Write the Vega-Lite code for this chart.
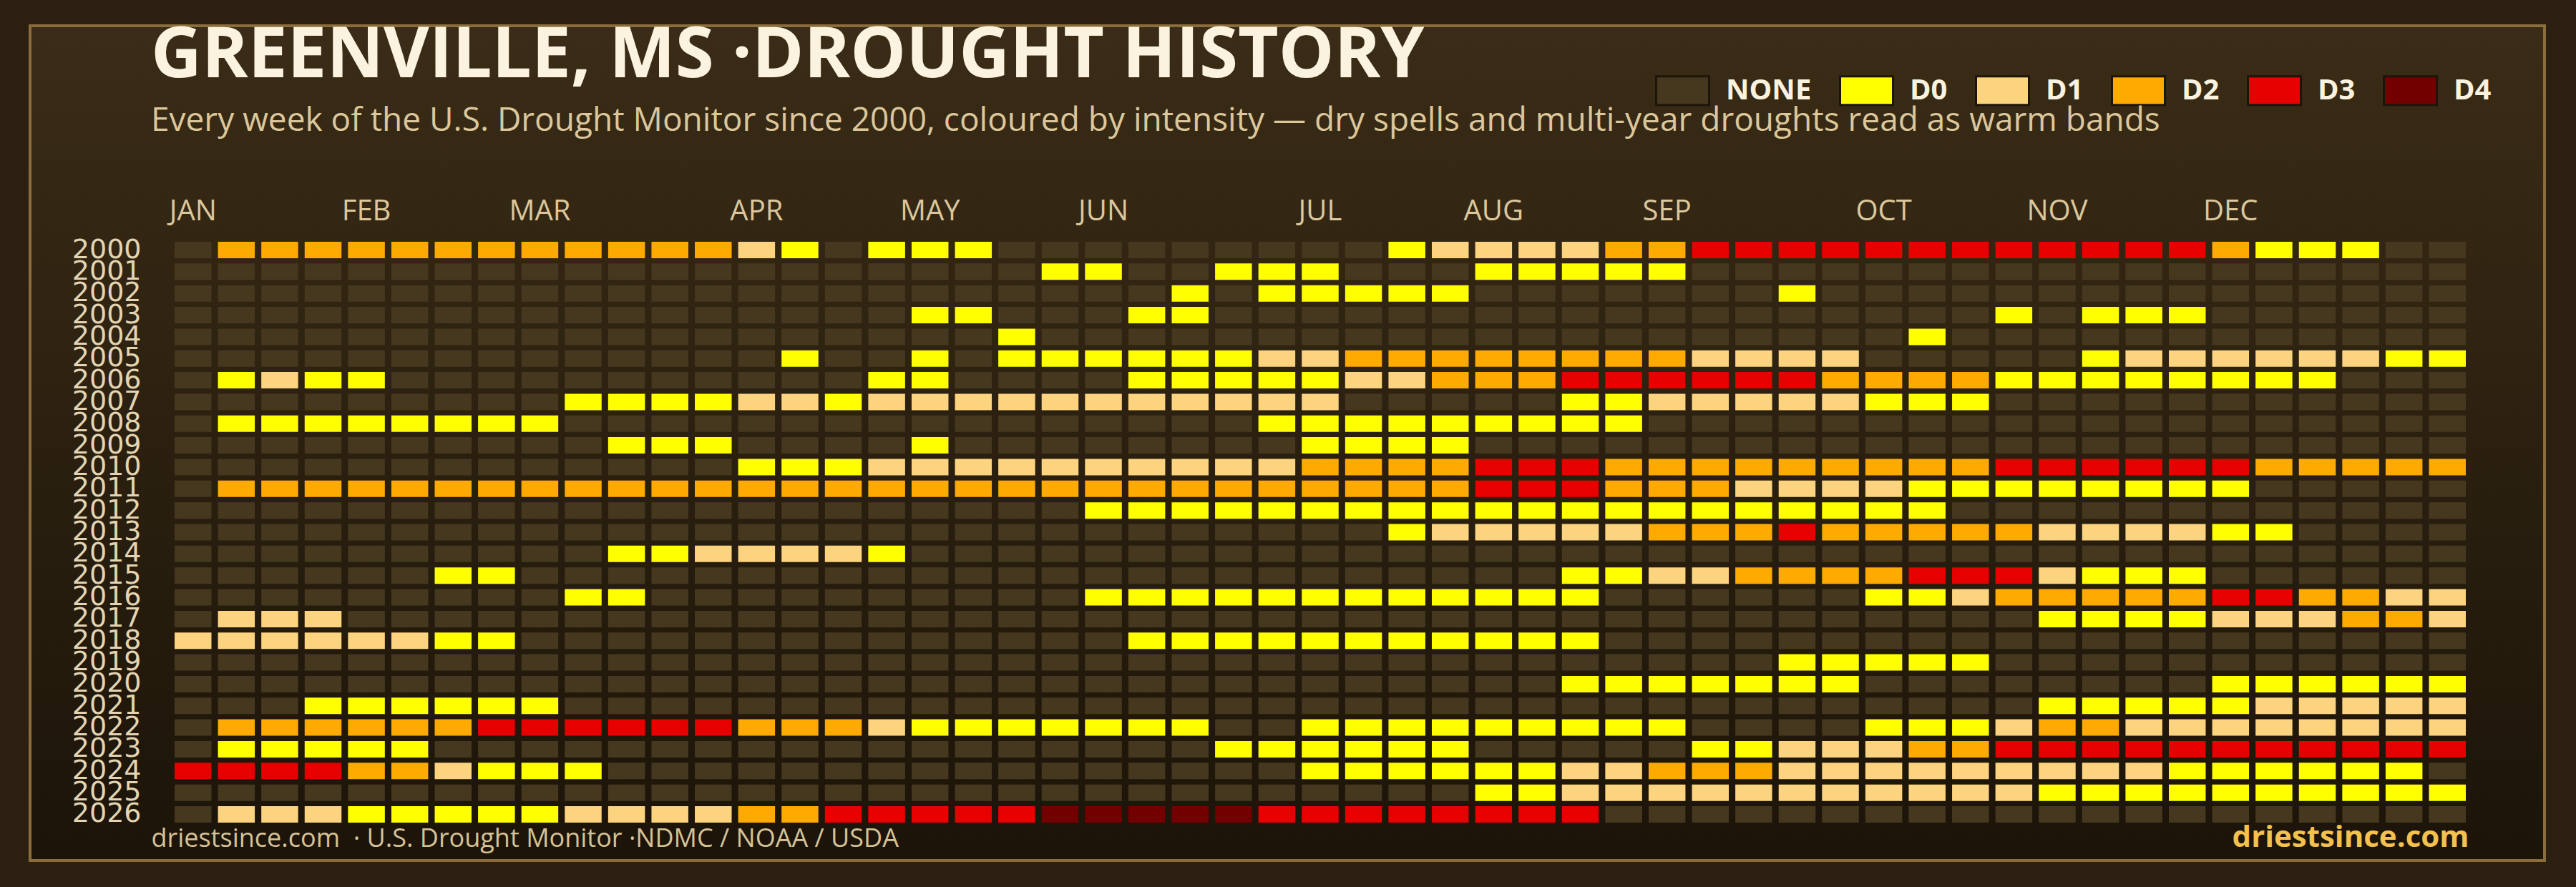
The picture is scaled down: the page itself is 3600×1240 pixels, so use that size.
{
"$schema": "https://vega.github.io/schema/vega-lite/v6.json",
"width": 3514,
"height": 1167,
"autosize": {"type": "none"},
"padding": {"left": 42, "top": 36, "right": 44, "bottom": 37},
"background": "#2a1f10",
"config": {
  "font": "Open Sans",
  "view": {"fill": {"gradient": "linear", "x1": 0, "y1": 0, "x2": 0, "y2": 1, "stops": [{"offset": 0, "color": "#3a2c16"}, {"offset": 1, "color": "#1c1409"}]}, "stroke": "#8a6d3b", "strokeWidth": 4}
},
"title": {
  "text": "GREENVILLE, MS ·DROUGHT HISTORY",
  "subtitle": "Every week of the U.S. Drought Monitor since 2000, coloured by intensity — dry spells and multi-year droughts read as warm bands",
  "anchor": "start", "frame": "group", "orient": "top", "offset": -157, "dx": 169,
  "font": "Open Sans", "fontSize": 98, "fontWeight": "bold", "color": "#fbf3df",
  "subtitleFont": "Open Sans", "subtitleFontSize": 46, "subtitleColor": "#dcc79c", "subtitlePadding": 18
},
"data": {"values": [
{"year":2000,"wk":0,"lvl":"NONE"},{"year":2000,"wk":1,"lvl":"D2"},{"year":2000,"wk":2,"lvl":"D2"},{"year":2000,"wk":3,"lvl":"D2"},{"year":2000,"wk":4,"lvl":"D2"},{"year":2000,"wk":5,"lvl":"D2"},{"year":2000,"wk":6,"lvl":"D2"},{"year":2000,"wk":7,"lvl":"D2"},{"year":2000,"wk":8,"lvl":"D2"},{"year":2000,"wk":9,"lvl":"D2"},{"year":2000,"wk":10,"lvl":"D2"},{"year":2000,"wk":11,"lvl":"D2"},{"year":2000,"wk":12,"lvl":"D2"},{"year":2000,"wk":13,"lvl":"D1"},{"year":2000,"wk":14,"lvl":"D0"},{"year":2000,"wk":15,"lvl":"NONE"},{"year":2000,"wk":16,"lvl":"D0"},{"year":2000,"wk":17,"lvl":"D0"},{"year":2000,"wk":18,"lvl":"D0"},{"year":2000,"wk":19,"lvl":"NONE"},{"year":2000,"wk":20,"lvl":"NONE"},{"year":2000,"wk":21,"lvl":"NONE"},{"year":2000,"wk":22,"lvl":"NONE"},{"year":2000,"wk":23,"lvl":"NONE"},{"year":2000,"wk":24,"lvl":"NONE"},{"year":2000,"wk":25,"lvl":"NONE"},{"year":2000,"wk":26,"lvl":"NONE"},{"year":2000,"wk":27,"lvl":"NONE"},{"year":2000,"wk":28,"lvl":"D0"},{"year":2000,"wk":29,"lvl":"D1"},{"year":2000,"wk":30,"lvl":"D1"},{"year":2000,"wk":31,"lvl":"D1"},{"year":2000,"wk":32,"lvl":"D1"},{"year":2000,"wk":33,"lvl":"D2"},{"year":2000,"wk":34,"lvl":"D2"},{"year":2000,"wk":35,"lvl":"D3"},{"year":2000,"wk":36,"lvl":"D3"},{"year":2000,"wk":37,"lvl":"D3"},{"year":2000,"wk":38,"lvl":"D3"},{"year":2000,"wk":39,"lvl":"D3"},{"year":2000,"wk":40,"lvl":"D3"},{"year":2000,"wk":41,"lvl":"D3"},{"year":2000,"wk":42,"lvl":"D3"},{"year":2000,"wk":43,"lvl":"D3"},{"year":2000,"wk":44,"lvl":"D3"},{"year":2000,"wk":45,"lvl":"D3"},{"year":2000,"wk":46,"lvl":"D3"},{"year":2000,"wk":47,"lvl":"D2"},{"year":2000,"wk":48,"lvl":"D0"},{"year":2000,"wk":49,"lvl":"D0"},{"year":2000,"wk":50,"lvl":"D0"},{"year":2000,"wk":51,"lvl":"NONE"},{"year":2000,"wk":52,"lvl":"NONE"},
{"year":2001,"wk":0,"lvl":"NONE"},{"year":2001,"wk":1,"lvl":"NONE"},{"year":2001,"wk":2,"lvl":"NONE"},{"year":2001,"wk":3,"lvl":"NONE"},{"year":2001,"wk":4,"lvl":"NONE"},{"year":2001,"wk":5,"lvl":"NONE"},{"year":2001,"wk":6,"lvl":"NONE"},{"year":2001,"wk":7,"lvl":"NONE"},{"year":2001,"wk":8,"lvl":"NONE"},{"year":2001,"wk":9,"lvl":"NONE"},{"year":2001,"wk":10,"lvl":"NONE"},{"year":2001,"wk":11,"lvl":"NONE"},{"year":2001,"wk":12,"lvl":"NONE"},{"year":2001,"wk":13,"lvl":"NONE"},{"year":2001,"wk":14,"lvl":"NONE"},{"year":2001,"wk":15,"lvl":"NONE"},{"year":2001,"wk":16,"lvl":"NONE"},{"year":2001,"wk":17,"lvl":"NONE"},{"year":2001,"wk":18,"lvl":"NONE"},{"year":2001,"wk":19,"lvl":"NONE"},{"year":2001,"wk":20,"lvl":"D0"},{"year":2001,"wk":21,"lvl":"D0"},{"year":2001,"wk":22,"lvl":"NONE"},{"year":2001,"wk":23,"lvl":"NONE"},{"year":2001,"wk":24,"lvl":"D0"},{"year":2001,"wk":25,"lvl":"D0"},{"year":2001,"wk":26,"lvl":"D0"},{"year":2001,"wk":27,"lvl":"NONE"},{"year":2001,"wk":28,"lvl":"NONE"},{"year":2001,"wk":29,"lvl":"NONE"},{"year":2001,"wk":30,"lvl":"D0"},{"year":2001,"wk":31,"lvl":"D0"},{"year":2001,"wk":32,"lvl":"D0"},{"year":2001,"wk":33,"lvl":"D0"},{"year":2001,"wk":34,"lvl":"D0"},{"year":2001,"wk":35,"lvl":"NONE"},{"year":2001,"wk":36,"lvl":"NONE"},{"year":2001,"wk":37,"lvl":"NONE"},{"year":2001,"wk":38,"lvl":"NONE"},{"year":2001,"wk":39,"lvl":"NONE"},{"year":2001,"wk":40,"lvl":"NONE"},{"year":2001,"wk":41,"lvl":"NONE"},{"year":2001,"wk":42,"lvl":"NONE"},{"year":2001,"wk":43,"lvl":"NONE"},{"year":2001,"wk":44,"lvl":"NONE"},{"year":2001,"wk":45,"lvl":"NONE"},{"year":2001,"wk":46,"lvl":"NONE"},{"year":2001,"wk":47,"lvl":"NONE"},{"year":2001,"wk":48,"lvl":"NONE"},{"year":2001,"wk":49,"lvl":"NONE"},{"year":2001,"wk":50,"lvl":"NONE"},{"year":2001,"wk":51,"lvl":"NONE"},{"year":2001,"wk":52,"lvl":"NONE"},
{"year":2002,"wk":0,"lvl":"NONE"},{"year":2002,"wk":1,"lvl":"NONE"},{"year":2002,"wk":2,"lvl":"NONE"},{"year":2002,"wk":3,"lvl":"NONE"},{"year":2002,"wk":4,"lvl":"NONE"},{"year":2002,"wk":5,"lvl":"NONE"},{"year":2002,"wk":6,"lvl":"NONE"},{"year":2002,"wk":7,"lvl":"NONE"},{"year":2002,"wk":8,"lvl":"NONE"},{"year":2002,"wk":9,"lvl":"NONE"},{"year":2002,"wk":10,"lvl":"NONE"},{"year":2002,"wk":11,"lvl":"NONE"},{"year":2002,"wk":12,"lvl":"NONE"},{"year":2002,"wk":13,"lvl":"NONE"},{"year":2002,"wk":14,"lvl":"NONE"},{"year":2002,"wk":15,"lvl":"NONE"},{"year":2002,"wk":16,"lvl":"NONE"},{"year":2002,"wk":17,"lvl":"NONE"},{"year":2002,"wk":18,"lvl":"NONE"},{"year":2002,"wk":19,"lvl":"NONE"},{"year":2002,"wk":20,"lvl":"NONE"},{"year":2002,"wk":21,"lvl":"NONE"},{"year":2002,"wk":22,"lvl":"NONE"},{"year":2002,"wk":23,"lvl":"D0"},{"year":2002,"wk":24,"lvl":"NONE"},{"year":2002,"wk":25,"lvl":"D0"},{"year":2002,"wk":26,"lvl":"D0"},{"year":2002,"wk":27,"lvl":"D0"},{"year":2002,"wk":28,"lvl":"D0"},{"year":2002,"wk":29,"lvl":"D0"},{"year":2002,"wk":30,"lvl":"NONE"},{"year":2002,"wk":31,"lvl":"NONE"},{"year":2002,"wk":32,"lvl":"NONE"},{"year":2002,"wk":33,"lvl":"NONE"},{"year":2002,"wk":34,"lvl":"NONE"},{"year":2002,"wk":35,"lvl":"NONE"},{"year":2002,"wk":36,"lvl":"NONE"},{"year":2002,"wk":37,"lvl":"D0"},{"year":2002,"wk":38,"lvl":"NONE"},{"year":2002,"wk":39,"lvl":"NONE"},{"year":2002,"wk":40,"lvl":"NONE"},{"year":2002,"wk":41,"lvl":"NONE"},{"year":2002,"wk":42,"lvl":"NONE"},{"year":2002,"wk":43,"lvl":"NONE"},{"year":2002,"wk":44,"lvl":"NONE"},{"year":2002,"wk":45,"lvl":"NONE"},{"year":2002,"wk":46,"lvl":"NONE"},{"year":2002,"wk":47,"lvl":"NONE"},{"year":2002,"wk":48,"lvl":"NONE"},{"year":2002,"wk":49,"lvl":"NONE"},{"year":2002,"wk":50,"lvl":"NONE"},{"year":2002,"wk":51,"lvl":"NONE"},{"year":2002,"wk":52,"lvl":"NONE"},
{"year":2003,"wk":0,"lvl":"NONE"},{"year":2003,"wk":1,"lvl":"NONE"},{"year":2003,"wk":2,"lvl":"NONE"},{"year":2003,"wk":3,"lvl":"NONE"},{"year":2003,"wk":4,"lvl":"NONE"},{"year":2003,"wk":5,"lvl":"NONE"},{"year":2003,"wk":6,"lvl":"NONE"},{"year":2003,"wk":7,"lvl":"NONE"},{"year":2003,"wk":8,"lvl":"NONE"},{"year":2003,"wk":9,"lvl":"NONE"},{"year":2003,"wk":10,"lvl":"NONE"},{"year":2003,"wk":11,"lvl":"NONE"},{"year":2003,"wk":12,"lvl":"NONE"},{"year":2003,"wk":13,"lvl":"NONE"},{"year":2003,"wk":14,"lvl":"NONE"},{"year":2003,"wk":15,"lvl":"NONE"},{"year":2003,"wk":16,"lvl":"NONE"},{"year":2003,"wk":17,"lvl":"D0"},{"year":2003,"wk":18,"lvl":"D0"},{"year":2003,"wk":19,"lvl":"NONE"},{"year":2003,"wk":20,"lvl":"NONE"},{"year":2003,"wk":21,"lvl":"NONE"},{"year":2003,"wk":22,"lvl":"D0"},{"year":2003,"wk":23,"lvl":"D0"},{"year":2003,"wk":24,"lvl":"NONE"},{"year":2003,"wk":25,"lvl":"NONE"},{"year":2003,"wk":26,"lvl":"NONE"},{"year":2003,"wk":27,"lvl":"NONE"},{"year":2003,"wk":28,"lvl":"NONE"},{"year":2003,"wk":29,"lvl":"NONE"},{"year":2003,"wk":30,"lvl":"NONE"},{"year":2003,"wk":31,"lvl":"NONE"},{"year":2003,"wk":32,"lvl":"NONE"},{"year":2003,"wk":33,"lvl":"NONE"},{"year":2003,"wk":34,"lvl":"NONE"},{"year":2003,"wk":35,"lvl":"NONE"},{"year":2003,"wk":36,"lvl":"NONE"},{"year":2003,"wk":37,"lvl":"NONE"},{"year":2003,"wk":38,"lvl":"NONE"},{"year":2003,"wk":39,"lvl":"NONE"},{"year":2003,"wk":40,"lvl":"NONE"},{"year":2003,"wk":41,"lvl":"NONE"},{"year":2003,"wk":42,"lvl":"D0"},{"year":2003,"wk":43,"lvl":"NONE"},{"year":2003,"wk":44,"lvl":"D0"},{"year":2003,"wk":45,"lvl":"D0"},{"year":2003,"wk":46,"lvl":"D0"},{"year":2003,"wk":47,"lvl":"NONE"},{"year":2003,"wk":48,"lvl":"NONE"},{"year":2003,"wk":49,"lvl":"NONE"},{"year":2003,"wk":50,"lvl":"NONE"},{"year":2003,"wk":51,"lvl":"NONE"},{"year":2003,"wk":52,"lvl":"NONE"},
{"year":2004,"wk":0,"lvl":"NONE"},{"year":2004,"wk":1,"lvl":"NONE"},{"year":2004,"wk":2,"lvl":"NONE"},{"year":2004,"wk":3,"lvl":"NONE"},{"year":2004,"wk":4,"lvl":"NONE"},{"year":2004,"wk":5,"lvl":"NONE"},{"year":2004,"wk":6,"lvl":"NONE"},{"year":2004,"wk":7,"lvl":"NONE"},{"year":2004,"wk":8,"lvl":"NONE"},{"year":2004,"wk":9,"lvl":"NONE"},{"year":2004,"wk":10,"lvl":"NONE"},{"year":2004,"wk":11,"lvl":"NONE"},{"year":2004,"wk":12,"lvl":"NONE"},{"year":2004,"wk":13,"lvl":"NONE"},{"year":2004,"wk":14,"lvl":"NONE"},{"year":2004,"wk":15,"lvl":"NONE"},{"year":2004,"wk":16,"lvl":"NONE"},{"year":2004,"wk":17,"lvl":"NONE"},{"year":2004,"wk":18,"lvl":"NONE"},{"year":2004,"wk":19,"lvl":"D0"},{"year":2004,"wk":20,"lvl":"NONE"},{"year":2004,"wk":21,"lvl":"NONE"},{"year":2004,"wk":22,"lvl":"NONE"},{"year":2004,"wk":23,"lvl":"NONE"},{"year":2004,"wk":24,"lvl":"NONE"},{"year":2004,"wk":25,"lvl":"NONE"},{"year":2004,"wk":26,"lvl":"NONE"},{"year":2004,"wk":27,"lvl":"NONE"},{"year":2004,"wk":28,"lvl":"NONE"},{"year":2004,"wk":29,"lvl":"NONE"},{"year":2004,"wk":30,"lvl":"NONE"},{"year":2004,"wk":31,"lvl":"NONE"},{"year":2004,"wk":32,"lvl":"NONE"},{"year":2004,"wk":33,"lvl":"NONE"},{"year":2004,"wk":34,"lvl":"NONE"},{"year":2004,"wk":35,"lvl":"NONE"},{"year":2004,"wk":36,"lvl":"NONE"},{"year":2004,"wk":37,"lvl":"NONE"},{"year":2004,"wk":38,"lvl":"NONE"},{"year":2004,"wk":39,"lvl":"NONE"},{"year":2004,"wk":40,"lvl":"D0"},{"year":2004,"wk":41,"lvl":"NONE"},{"year":2004,"wk":42,"lvl":"NONE"},{"year":2004,"wk":43,"lvl":"NONE"},{"year":2004,"wk":44,"lvl":"NONE"},{"year":2004,"wk":45,"lvl":"NONE"},{"year":2004,"wk":46,"lvl":"NONE"},{"year":2004,"wk":47,"lvl":"NONE"},{"year":2004,"wk":48,"lvl":"NONE"},{"year":2004,"wk":49,"lvl":"NONE"},{"year":2004,"wk":50,"lvl":"NONE"},{"year":2004,"wk":51,"lvl":"NONE"},{"year":2004,"wk":52,"lvl":"NONE"},
{"year":2005,"wk":0,"lvl":"NONE"},{"year":2005,"wk":1,"lvl":"NONE"},{"year":2005,"wk":2,"lvl":"NONE"},{"year":2005,"wk":3,"lvl":"NONE"},{"year":2005,"wk":4,"lvl":"NONE"},{"year":2005,"wk":5,"lvl":"NONE"},{"year":2005,"wk":6,"lvl":"NONE"},{"year":2005,"wk":7,"lvl":"NONE"},{"year":2005,"wk":8,"lvl":"NONE"},{"year":2005,"wk":9,"lvl":"NONE"},{"year":2005,"wk":10,"lvl":"NONE"},{"year":2005,"wk":11,"lvl":"NONE"},{"year":2005,"wk":12,"lvl":"NONE"},{"year":2005,"wk":13,"lvl":"NONE"},{"year":2005,"wk":14,"lvl":"D0"},{"year":2005,"wk":15,"lvl":"NONE"},{"year":2005,"wk":16,"lvl":"NONE"},{"year":2005,"wk":17,"lvl":"D0"},{"year":2005,"wk":18,"lvl":"NONE"},{"year":2005,"wk":19,"lvl":"D0"},{"year":2005,"wk":20,"lvl":"D0"},{"year":2005,"wk":21,"lvl":"D0"},{"year":2005,"wk":22,"lvl":"D0"},{"year":2005,"wk":23,"lvl":"D0"},{"year":2005,"wk":24,"lvl":"D0"},{"year":2005,"wk":25,"lvl":"D1"},{"year":2005,"wk":26,"lvl":"D1"},{"year":2005,"wk":27,"lvl":"D2"},{"year":2005,"wk":28,"lvl":"D2"},{"year":2005,"wk":29,"lvl":"D2"},{"year":2005,"wk":30,"lvl":"D2"},{"year":2005,"wk":31,"lvl":"D2"},{"year":2005,"wk":32,"lvl":"D2"},{"year":2005,"wk":33,"lvl":"D2"},{"year":2005,"wk":34,"lvl":"D2"},{"year":2005,"wk":35,"lvl":"D1"},{"year":2005,"wk":36,"lvl":"D1"},{"year":2005,"wk":37,"lvl":"D1"},{"year":2005,"wk":38,"lvl":"D1"},{"year":2005,"wk":39,"lvl":"NONE"},{"year":2005,"wk":40,"lvl":"NONE"},{"year":2005,"wk":41,"lvl":"NONE"},{"year":2005,"wk":42,"lvl":"NONE"},{"year":2005,"wk":43,"lvl":"NONE"},{"year":2005,"wk":44,"lvl":"D0"},{"year":2005,"wk":45,"lvl":"D1"},{"year":2005,"wk":46,"lvl":"D1"},{"year":2005,"wk":47,"lvl":"D1"},{"year":2005,"wk":48,"lvl":"D1"},{"year":2005,"wk":49,"lvl":"D1"},{"year":2005,"wk":50,"lvl":"D1"},{"year":2005,"wk":51,"lvl":"D0"},{"year":2005,"wk":52,"lvl":"D0"},
{"year":2006,"wk":0,"lvl":"NONE"},{"year":2006,"wk":1,"lvl":"D0"},{"year":2006,"wk":2,"lvl":"D1"},{"year":2006,"wk":3,"lvl":"D0"},{"year":2006,"wk":4,"lvl":"D0"},{"year":2006,"wk":5,"lvl":"NONE"},{"year":2006,"wk":6,"lvl":"NONE"},{"year":2006,"wk":7,"lvl":"NONE"},{"year":2006,"wk":8,"lvl":"NONE"},{"year":2006,"wk":9,"lvl":"NONE"},{"year":2006,"wk":10,"lvl":"NONE"},{"year":2006,"wk":11,"lvl":"NONE"},{"year":2006,"wk":12,"lvl":"NONE"},{"year":2006,"wk":13,"lvl":"NONE"},{"year":2006,"wk":14,"lvl":"NONE"},{"year":2006,"wk":15,"lvl":"NONE"},{"year":2006,"wk":16,"lvl":"D0"},{"year":2006,"wk":17,"lvl":"D0"},{"year":2006,"wk":18,"lvl":"NONE"},{"year":2006,"wk":19,"lvl":"NONE"},{"year":2006,"wk":20,"lvl":"NONE"},{"year":2006,"wk":21,"lvl":"NONE"},{"year":2006,"wk":22,"lvl":"D0"},{"year":2006,"wk":23,"lvl":"D0"},{"year":2006,"wk":24,"lvl":"D0"},{"year":2006,"wk":25,"lvl":"D0"},{"year":2006,"wk":26,"lvl":"D0"},{"year":2006,"wk":27,"lvl":"D1"},{"year":2006,"wk":28,"lvl":"D1"},{"year":2006,"wk":29,"lvl":"D2"},{"year":2006,"wk":30,"lvl":"D2"},{"year":2006,"wk":31,"lvl":"D2"},{"year":2006,"wk":32,"lvl":"D3"},{"year":2006,"wk":33,"lvl":"D3"},{"year":2006,"wk":34,"lvl":"D3"},{"year":2006,"wk":35,"lvl":"D3"},{"year":2006,"wk":36,"lvl":"D3"},{"year":2006,"wk":37,"lvl":"D3"},{"year":2006,"wk":38,"lvl":"D2"},{"year":2006,"wk":39,"lvl":"D2"},{"year":2006,"wk":40,"lvl":"D2"},{"year":2006,"wk":41,"lvl":"D2"},{"year":2006,"wk":42,"lvl":"D0"},{"year":2006,"wk":43,"lvl":"D0"},{"year":2006,"wk":44,"lvl":"D0"},{"year":2006,"wk":45,"lvl":"D0"},{"year":2006,"wk":46,"lvl":"D0"},{"year":2006,"wk":47,"lvl":"D0"},{"year":2006,"wk":48,"lvl":"D0"},{"year":2006,"wk":49,"lvl":"D0"},{"year":2006,"wk":50,"lvl":"NONE"},{"year":2006,"wk":51,"lvl":"NONE"},{"year":2006,"wk":52,"lvl":"NONE"},
{"year":2007,"wk":0,"lvl":"NONE"},{"year":2007,"wk":1,"lvl":"NONE"},{"year":2007,"wk":2,"lvl":"NONE"},{"year":2007,"wk":3,"lvl":"NONE"},{"year":2007,"wk":4,"lvl":"NONE"},{"year":2007,"wk":5,"lvl":"NONE"},{"year":2007,"wk":6,"lvl":"NONE"},{"year":2007,"wk":7,"lvl":"NONE"},{"year":2007,"wk":8,"lvl":"NONE"},{"year":2007,"wk":9,"lvl":"D0"},{"year":2007,"wk":10,"lvl":"D0"},{"year":2007,"wk":11,"lvl":"D0"},{"year":2007,"wk":12,"lvl":"D0"},{"year":2007,"wk":13,"lvl":"D1"},{"year":2007,"wk":14,"lvl":"D1"},{"year":2007,"wk":15,"lvl":"D0"},{"year":2007,"wk":16,"lvl":"D1"},{"year":2007,"wk":17,"lvl":"D1"},{"year":2007,"wk":18,"lvl":"D1"},{"year":2007,"wk":19,"lvl":"D1"},{"year":2007,"wk":20,"lvl":"D1"},{"year":2007,"wk":21,"lvl":"D1"},{"year":2007,"wk":22,"lvl":"D1"},{"year":2007,"wk":23,"lvl":"D1"},{"year":2007,"wk":24,"lvl":"D1"},{"year":2007,"wk":25,"lvl":"D1"},{"year":2007,"wk":26,"lvl":"D1"},{"year":2007,"wk":27,"lvl":"NONE"},{"year":2007,"wk":28,"lvl":"NONE"},{"year":2007,"wk":29,"lvl":"NONE"},{"year":2007,"wk":30,"lvl":"NONE"},{"year":2007,"wk":31,"lvl":"NONE"},{"year":2007,"wk":32,"lvl":"D0"},{"year":2007,"wk":33,"lvl":"D0"},{"year":2007,"wk":34,"lvl":"D1"},{"year":2007,"wk":35,"lvl":"D1"},{"year":2007,"wk":36,"lvl":"D1"},{"year":2007,"wk":37,"lvl":"D1"},{"year":2007,"wk":38,"lvl":"D1"},{"year":2007,"wk":39,"lvl":"D0"},{"year":2007,"wk":40,"lvl":"D0"},{"year":2007,"wk":41,"lvl":"D0"},{"year":2007,"wk":42,"lvl":"NONE"},{"year":2007,"wk":43,"lvl":"NONE"},{"year":2007,"wk":44,"lvl":"NONE"},{"year":2007,"wk":45,"lvl":"NONE"},{"year":2007,"wk":46,"lvl":"NONE"},{"year":2007,"wk":47,"lvl":"NONE"},{"year":2007,"wk":48,"lvl":"NONE"},{"year":2007,"wk":49,"lvl":"NONE"},{"year":2007,"wk":50,"lvl":"NONE"},{"year":2007,"wk":51,"lvl":"NONE"},{"year":2007,"wk":52,"lvl":"NONE"},
{"year":2008,"wk":0,"lvl":"NONE"},{"year":2008,"wk":1,"lvl":"D0"},{"year":2008,"wk":2,"lvl":"D0"},{"year":2008,"wk":3,"lvl":"D0"},{"year":2008,"wk":4,"lvl":"D0"},{"year":2008,"wk":5,"lvl":"D0"},{"year":2008,"wk":6,"lvl":"D0"},{"year":2008,"wk":7,"lvl":"D0"},{"year":2008,"wk":8,"lvl":"D0"},{"year":2008,"wk":9,"lvl":"NONE"},{"year":2008,"wk":10,"lvl":"NONE"},{"year":2008,"wk":11,"lvl":"NONE"},{"year":2008,"wk":12,"lvl":"NONE"},{"year":2008,"wk":13,"lvl":"NONE"},{"year":2008,"wk":14,"lvl":"NONE"},{"year":2008,"wk":15,"lvl":"NONE"},{"year":2008,"wk":16,"lvl":"NONE"},{"year":2008,"wk":17,"lvl":"NONE"},{"year":2008,"wk":18,"lvl":"NONE"},{"year":2008,"wk":19,"lvl":"NONE"},{"year":2008,"wk":20,"lvl":"NONE"},{"year":2008,"wk":21,"lvl":"NONE"},{"year":2008,"wk":22,"lvl":"NONE"},{"year":2008,"wk":23,"lvl":"NONE"},{"year":2008,"wk":24,"lvl":"NONE"},{"year":2008,"wk":25,"lvl":"D0"},{"year":2008,"wk":26,"lvl":"D0"},{"year":2008,"wk":27,"lvl":"D0"},{"year":2008,"wk":28,"lvl":"D0"},{"year":2008,"wk":29,"lvl":"D0"},{"year":2008,"wk":30,"lvl":"D0"},{"year":2008,"wk":31,"lvl":"D0"},{"year":2008,"wk":32,"lvl":"D0"},{"year":2008,"wk":33,"lvl":"D0"},{"year":2008,"wk":34,"lvl":"NONE"},{"year":2008,"wk":35,"lvl":"NONE"},{"year":2008,"wk":36,"lvl":"NONE"},{"year":2008,"wk":37,"lvl":"NONE"},{"year":2008,"wk":38,"lvl":"NONE"},{"year":2008,"wk":39,"lvl":"NONE"},{"year":2008,"wk":40,"lvl":"NONE"},{"year":2008,"wk":41,"lvl":"NONE"},{"year":2008,"wk":42,"lvl":"NONE"},{"year":2008,"wk":43,"lvl":"NONE"},{"year":2008,"wk":44,"lvl":"NONE"},{"year":2008,"wk":45,"lvl":"NONE"},{"year":2008,"wk":46,"lvl":"NONE"},{"year":2008,"wk":47,"lvl":"NONE"},{"year":2008,"wk":48,"lvl":"NONE"},{"year":2008,"wk":49,"lvl":"NONE"},{"year":2008,"wk":50,"lvl":"NONE"},{"year":2008,"wk":51,"lvl":"NONE"},{"year":2008,"wk":52,"lvl":"NONE"},
{"year":2009,"wk":0,"lvl":"NONE"},{"year":2009,"wk":1,"lvl":"NONE"},{"year":2009,"wk":2,"lvl":"NONE"},{"year":2009,"wk":3,"lvl":"NONE"},{"year":2009,"wk":4,"lvl":"NONE"},{"year":2009,"wk":5,"lvl":"NONE"},{"year":2009,"wk":6,"lvl":"NONE"},{"year":2009,"wk":7,"lvl":"NONE"},{"year":2009,"wk":8,"lvl":"NONE"},{"year":2009,"wk":9,"lvl":"NONE"},{"year":2009,"wk":10,"lvl":"D0"},{"year":2009,"wk":11,"lvl":"D0"},{"year":2009,"wk":12,"lvl":"D0"},{"year":2009,"wk":13,"lvl":"NONE"},{"year":2009,"wk":14,"lvl":"NONE"},{"year":2009,"wk":15,"lvl":"NONE"},{"year":2009,"wk":16,"lvl":"NONE"},{"year":2009,"wk":17,"lvl":"D0"},{"year":2009,"wk":18,"lvl":"NONE"},{"year":2009,"wk":19,"lvl":"NONE"},{"year":2009,"wk":20,"lvl":"NONE"},{"year":2009,"wk":21,"lvl":"NONE"},{"year":2009,"wk":22,"lvl":"NONE"},{"year":2009,"wk":23,"lvl":"NONE"},{"year":2009,"wk":24,"lvl":"NONE"},{"year":2009,"wk":25,"lvl":"NONE"},{"year":2009,"wk":26,"lvl":"D0"},{"year":2009,"wk":27,"lvl":"D0"},{"year":2009,"wk":28,"lvl":"D0"},{"year":2009,"wk":29,"lvl":"D0"},{"year":2009,"wk":30,"lvl":"NONE"},{"year":2009,"wk":31,"lvl":"NONE"},{"year":2009,"wk":32,"lvl":"NONE"},{"year":2009,"wk":33,"lvl":"NONE"},{"year":2009,"wk":34,"lvl":"NONE"},{"year":2009,"wk":35,"lvl":"NONE"},{"year":2009,"wk":36,"lvl":"NONE"},{"year":2009,"wk":37,"lvl":"NONE"},{"year":2009,"wk":38,"lvl":"NONE"},{"year":2009,"wk":39,"lvl":"NONE"},{"year":2009,"wk":40,"lvl":"NONE"},{"year":2009,"wk":41,"lvl":"NONE"},{"year":2009,"wk":42,"lvl":"NONE"},{"year":2009,"wk":43,"lvl":"NONE"},{"year":2009,"wk":44,"lvl":"NONE"},{"year":2009,"wk":45,"lvl":"NONE"},{"year":2009,"wk":46,"lvl":"NONE"},{"year":2009,"wk":47,"lvl":"NONE"},{"year":2009,"wk":48,"lvl":"NONE"},{"year":2009,"wk":49,"lvl":"NONE"},{"year":2009,"wk":50,"lvl":"NONE"},{"year":2009,"wk":51,"lvl":"NONE"},{"year":2009,"wk":52,"lvl":"NONE"},
{"year":2010,"wk":0,"lvl":"NONE"},{"year":2010,"wk":1,"lvl":"NONE"},{"year":2010,"wk":2,"lvl":"NONE"},{"year":2010,"wk":3,"lvl":"NONE"},{"year":2010,"wk":4,"lvl":"NONE"},{"year":2010,"wk":5,"lvl":"NONE"},{"year":2010,"wk":6,"lvl":"NONE"},{"year":2010,"wk":7,"lvl":"NONE"},{"year":2010,"wk":8,"lvl":"NONE"},{"year":2010,"wk":9,"lvl":"NONE"},{"year":2010,"wk":10,"lvl":"NONE"},{"year":2010,"wk":11,"lvl":"NONE"},{"year":2010,"wk":12,"lvl":"NONE"},{"year":2010,"wk":13,"lvl":"D0"},{"year":2010,"wk":14,"lvl":"D0"},{"year":2010,"wk":15,"lvl":"D0"},{"year":2010,"wk":16,"lvl":"D1"},{"year":2010,"wk":17,"lvl":"D1"},{"year":2010,"wk":18,"lvl":"D1"},{"year":2010,"wk":19,"lvl":"D1"},{"year":2010,"wk":20,"lvl":"D1"},{"year":2010,"wk":21,"lvl":"D1"},{"year":2010,"wk":22,"lvl":"D1"},{"year":2010,"wk":23,"lvl":"D1"},{"year":2010,"wk":24,"lvl":"D1"},{"year":2010,"wk":25,"lvl":"D1"},{"year":2010,"wk":26,"lvl":"D2"},{"year":2010,"wk":27,"lvl":"D2"},{"year":2010,"wk":28,"lvl":"D2"},{"year":2010,"wk":29,"lvl":"D2"},{"year":2010,"wk":30,"lvl":"D3"},{"year":2010,"wk":31,"lvl":"D3"},{"year":2010,"wk":32,"lvl":"D3"},{"year":2010,"wk":33,"lvl":"D2"},{"year":2010,"wk":34,"lvl":"D2"},{"year":2010,"wk":35,"lvl":"D2"},{"year":2010,"wk":36,"lvl":"D2"},{"year":2010,"wk":37,"lvl":"D2"},{"year":2010,"wk":38,"lvl":"D2"},{"year":2010,"wk":39,"lvl":"D2"},{"year":2010,"wk":40,"lvl":"D2"},{"year":2010,"wk":41,"lvl":"D2"},{"year":2010,"wk":42,"lvl":"D3"},{"year":2010,"wk":43,"lvl":"D3"},{"year":2010,"wk":44,"lvl":"D3"},{"year":2010,"wk":45,"lvl":"D3"},{"year":2010,"wk":46,"lvl":"D3"},{"year":2010,"wk":47,"lvl":"D3"},{"year":2010,"wk":48,"lvl":"D2"},{"year":2010,"wk":49,"lvl":"D2"},{"year":2010,"wk":50,"lvl":"D2"},{"year":2010,"wk":51,"lvl":"D2"},{"year":2010,"wk":52,"lvl":"D2"},
{"year":2011,"wk":0,"lvl":"NONE"},{"year":2011,"wk":1,"lvl":"D2"},{"year":2011,"wk":2,"lvl":"D2"},{"year":2011,"wk":3,"lvl":"D2"},{"year":2011,"wk":4,"lvl":"D2"},{"year":2011,"wk":5,"lvl":"D2"},{"year":2011,"wk":6,"lvl":"D2"},{"year":2011,"wk":7,"lvl":"D2"},{"year":2011,"wk":8,"lvl":"D2"},{"year":2011,"wk":9,"lvl":"D2"},{"year":2011,"wk":10,"lvl":"D2"},{"year":2011,"wk":11,"lvl":"D2"},{"year":2011,"wk":12,"lvl":"D2"},{"year":2011,"wk":13,"lvl":"D2"},{"year":2011,"wk":14,"lvl":"D2"},{"year":2011,"wk":15,"lvl":"D2"},{"year":2011,"wk":16,"lvl":"D2"},{"year":2011,"wk":17,"lvl":"D2"},{"year":2011,"wk":18,"lvl":"D2"},{"year":2011,"wk":19,"lvl":"D2"},{"year":2011,"wk":20,"lvl":"D2"},{"year":2011,"wk":21,"lvl":"D2"},{"year":2011,"wk":22,"lvl":"D2"},{"year":2011,"wk":23,"lvl":"D2"},{"year":2011,"wk":24,"lvl":"D2"},{"year":2011,"wk":25,"lvl":"D2"},{"year":2011,"wk":26,"lvl":"D2"},{"year":2011,"wk":27,"lvl":"D2"},{"year":2011,"wk":28,"lvl":"D2"},{"year":2011,"wk":29,"lvl":"D2"},{"year":2011,"wk":30,"lvl":"D3"},{"year":2011,"wk":31,"lvl":"D3"},{"year":2011,"wk":32,"lvl":"D3"},{"year":2011,"wk":33,"lvl":"D2"},{"year":2011,"wk":34,"lvl":"D2"},{"year":2011,"wk":35,"lvl":"D2"},{"year":2011,"wk":36,"lvl":"D1"},{"year":2011,"wk":37,"lvl":"D1"},{"year":2011,"wk":38,"lvl":"D1"},{"year":2011,"wk":39,"lvl":"D1"},{"year":2011,"wk":40,"lvl":"D0"},{"year":2011,"wk":41,"lvl":"D0"},{"year":2011,"wk":42,"lvl":"D0"},{"year":2011,"wk":43,"lvl":"D0"},{"year":2011,"wk":44,"lvl":"D0"},{"year":2011,"wk":45,"lvl":"D0"},{"year":2011,"wk":46,"lvl":"D0"},{"year":2011,"wk":47,"lvl":"D0"},{"year":2011,"wk":48,"lvl":"NONE"},{"year":2011,"wk":49,"lvl":"NONE"},{"year":2011,"wk":50,"lvl":"NONE"},{"year":2011,"wk":51,"lvl":"NONE"},{"year":2011,"wk":52,"lvl":"NONE"},
{"year":2012,"wk":0,"lvl":"NONE"},{"year":2012,"wk":1,"lvl":"NONE"},{"year":2012,"wk":2,"lvl":"NONE"},{"year":2012,"wk":3,"lvl":"NONE"},{"year":2012,"wk":4,"lvl":"NONE"},{"year":2012,"wk":5,"lvl":"NONE"},{"year":2012,"wk":6,"lvl":"NONE"},{"year":2012,"wk":7,"lvl":"NONE"},{"year":2012,"wk":8,"lvl":"NONE"},{"year":2012,"wk":9,"lvl":"NONE"},{"year":2012,"wk":10,"lvl":"NONE"},{"year":2012,"wk":11,"lvl":"NONE"},{"year":2012,"wk":12,"lvl":"NONE"},{"year":2012,"wk":13,"lvl":"NONE"},{"year":2012,"wk":14,"lvl":"NONE"},{"year":2012,"wk":15,"lvl":"NONE"},{"year":2012,"wk":16,"lvl":"NONE"},{"year":2012,"wk":17,"lvl":"NONE"},{"year":2012,"wk":18,"lvl":"NONE"},{"year":2012,"wk":19,"lvl":"NONE"},{"year":2012,"wk":20,"lvl":"NONE"},{"year":2012,"wk":21,"lvl":"D0"},{"year":2012,"wk":22,"lvl":"D0"},{"year":2012,"wk":23,"lvl":"D0"},{"year":2012,"wk":24,"lvl":"D0"},{"year":2012,"wk":25,"lvl":"D0"},{"year":2012,"wk":26,"lvl":"D0"},{"year":2012,"wk":27,"lvl":"D0"},{"year":2012,"wk":28,"lvl":"D0"},{"year":2012,"wk":29,"lvl":"D0"},{"year":2012,"wk":30,"lvl":"D0"},{"year":2012,"wk":31,"lvl":"D0"},{"year":2012,"wk":32,"lvl":"D0"},{"year":2012,"wk":33,"lvl":"D0"},{"year":2012,"wk":34,"lvl":"D0"},{"year":2012,"wk":35,"lvl":"D0"},{"year":2012,"wk":36,"lvl":"D0"},{"year":2012,"wk":37,"lvl":"D0"},{"year":2012,"wk":38,"lvl":"D0"},{"year":2012,"wk":39,"lvl":"D0"},{"year":2012,"wk":40,"lvl":"D0"},{"year":2012,"wk":41,"lvl":"NONE"},{"year":2012,"wk":42,"lvl":"NONE"},{"year":2012,"wk":43,"lvl":"NONE"},{"year":2012,"wk":44,"lvl":"NONE"},{"year":2012,"wk":45,"lvl":"NONE"},{"year":2012,"wk":46,"lvl":"NONE"},{"year":2012,"wk":47,"lvl":"NONE"},{"year":2012,"wk":48,"lvl":"NONE"},{"year":2012,"wk":49,"lvl":"NONE"},{"year":2012,"wk":50,"lvl":"NONE"},{"year":2012,"wk":51,"lvl":"NONE"},{"year":2012,"wk":52,"lvl":"NONE"},
{"year":2013,"wk":0,"lvl":"NONE"},{"year":2013,"wk":1,"lvl":"NONE"},{"year":2013,"wk":2,"lvl":"NONE"},{"year":2013,"wk":3,"lvl":"NONE"},{"year":2013,"wk":4,"lvl":"NONE"},{"year":2013,"wk":5,"lvl":"NONE"},{"year":2013,"wk":6,"lvl":"NONE"},{"year":2013,"wk":7,"lvl":"NONE"},{"year":2013,"wk":8,"lvl":"NONE"},{"year":2013,"wk":9,"lvl":"NONE"},{"year":2013,"wk":10,"lvl":"NONE"},{"year":2013,"wk":11,"lvl":"NONE"},{"year":2013,"wk":12,"lvl":"NONE"},{"year":2013,"wk":13,"lvl":"NONE"},{"year":2013,"wk":14,"lvl":"NONE"},{"year":2013,"wk":15,"lvl":"NONE"},{"year":2013,"wk":16,"lvl":"NONE"},{"year":2013,"wk":17,"lvl":"NONE"},{"year":2013,"wk":18,"lvl":"NONE"},{"year":2013,"wk":19,"lvl":"NONE"},{"year":2013,"wk":20,"lvl":"NONE"},{"year":2013,"wk":21,"lvl":"NONE"},{"year":2013,"wk":22,"lvl":"NONE"},{"year":2013,"wk":23,"lvl":"NONE"},{"year":2013,"wk":24,"lvl":"NONE"},{"year":2013,"wk":25,"lvl":"NONE"},{"year":2013,"wk":26,"lvl":"NONE"},{"year":2013,"wk":27,"lvl":"NONE"},{"year":2013,"wk":28,"lvl":"D0"},{"year":2013,"wk":29,"lvl":"D1"},{"year":2013,"wk":30,"lvl":"D1"},{"year":2013,"wk":31,"lvl":"D1"},{"year":2013,"wk":32,"lvl":"D1"},{"year":2013,"wk":33,"lvl":"D1"},{"year":2013,"wk":34,"lvl":"D2"},{"year":2013,"wk":35,"lvl":"D2"},{"year":2013,"wk":36,"lvl":"D2"},{"year":2013,"wk":37,"lvl":"D3"},{"year":2013,"wk":38,"lvl":"D2"},{"year":2013,"wk":39,"lvl":"D2"},{"year":2013,"wk":40,"lvl":"D2"},{"year":2013,"wk":41,"lvl":"D2"},{"year":2013,"wk":42,"lvl":"D2"},{"year":2013,"wk":43,"lvl":"D1"},{"year":2013,"wk":44,"lvl":"D1"},{"year":2013,"wk":45,"lvl":"D1"},{"year":2013,"wk":46,"lvl":"D1"},{"year":2013,"wk":47,"lvl":"D0"},{"year":2013,"wk":48,"lvl":"D0"},{"year":2013,"wk":49,"lvl":"NONE"},{"year":2013,"wk":50,"lvl":"NONE"},{"year":2013,"wk":51,"lvl":"NONE"},{"year":2013,"wk":52,"lvl":"NONE"},
{"year":2014,"wk":0,"lvl":"NONE"},{"year":2014,"wk":1,"lvl":"NONE"},{"year":2014,"wk":2,"lvl":"NONE"},{"year":2014,"wk":3,"lvl":"NONE"},{"year":2014,"wk":4,"lvl":"NONE"},{"year":2014,"wk":5,"lvl":"NONE"},{"year":2014,"wk":6,"lvl":"NONE"},{"year":2014,"wk":7,"lvl":"NONE"},{"year":2014,"wk":8,"lvl":"NONE"},{"year":2014,"wk":9,"lvl":"NONE"},{"year":2014,"wk":10,"lvl":"D0"},{"year":2014,"wk":11,"lvl":"D0"},{"year":2014,"wk":12,"lvl":"D1"},{"year":2014,"wk":13,"lvl":"D1"},{"year":2014,"wk":14,"lvl":"D1"},{"year":2014,"wk":15,"lvl":"D1"},{"year":2014,"wk":16,"lvl":"D0"},{"year":2014,"wk":17,"lvl":"NONE"},{"year":2014,"wk":18,"lvl":"NONE"},{"year":2014,"wk":19,"lvl":"NONE"},{"year":2014,"wk":20,"lvl":"NONE"},{"year":2014,"wk":21,"lvl":"NONE"},{"year":2014,"wk":22,"lvl":"NONE"},{"year":2014,"wk":23,"lvl":"NONE"},{"year":2014,"wk":24,"lvl":"NONE"},{"year":2014,"wk":25,"lvl":"NONE"},{"year":2014,"wk":26,"lvl":"NONE"},{"year":2014,"wk":27,"lvl":"NONE"},{"year":2014,"wk":28,"lvl":"NONE"},{"year":2014,"wk":29,"lvl":"NONE"},{"year":2014,"wk":30,"lvl":"NONE"},{"year":2014,"wk":31,"lvl":"NONE"},{"year":2014,"wk":32,"lvl":"NONE"},{"year":2014,"wk":33,"lvl":"NONE"},{"year":2014,"wk":34,"lvl":"NONE"},{"year":2014,"wk":35,"lvl":"NONE"},{"year":2014,"wk":36,"lvl":"NONE"},{"year":2014,"wk":37,"lvl":"NONE"},{"year":2014,"wk":38,"lvl":"NONE"},{"year":2014,"wk":39,"lvl":"NONE"},{"year":2014,"wk":40,"lvl":"NONE"},{"year":2014,"wk":41,"lvl":"NONE"},{"year":2014,"wk":42,"lvl":"NONE"},{"year":2014,"wk":43,"lvl":"NONE"},{"year":2014,"wk":44,"lvl":"NONE"},{"year":2014,"wk":45,"lvl":"NONE"},{"year":2014,"wk":46,"lvl":"NONE"},{"year":2014,"wk":47,"lvl":"NONE"},{"year":2014,"wk":48,"lvl":"NONE"},{"year":2014,"wk":49,"lvl":"NONE"},{"year":2014,"wk":50,"lvl":"NONE"},{"year":2014,"wk":51,"lvl":"NONE"},{"year":2014,"wk":52,"lvl":"NONE"},
{"year":2015,"wk":0,"lvl":"NONE"},{"year":2015,"wk":1,"lvl":"NONE"},{"year":2015,"wk":2,"lvl":"NONE"},{"year":2015,"wk":3,"lvl":"NONE"},{"year":2015,"wk":4,"lvl":"NONE"},{"year":2015,"wk":5,"lvl":"NONE"},{"year":2015,"wk":6,"lvl":"D0"},{"year":2015,"wk":7,"lvl":"D0"},{"year":2015,"wk":8,"lvl":"NONE"},{"year":2015,"wk":9,"lvl":"NONE"},{"year":2015,"wk":10,"lvl":"NONE"},{"year":2015,"wk":11,"lvl":"NONE"},{"year":2015,"wk":12,"lvl":"NONE"},{"year":2015,"wk":13,"lvl":"NONE"},{"year":2015,"wk":14,"lvl":"NONE"},{"year":2015,"wk":15,"lvl":"NONE"},{"year":2015,"wk":16,"lvl":"NONE"},{"year":2015,"wk":17,"lvl":"NONE"},{"year":2015,"wk":18,"lvl":"NONE"},{"year":2015,"wk":19,"lvl":"NONE"},{"year":2015,"wk":20,"lvl":"NONE"},{"year":2015,"wk":21,"lvl":"NONE"},{"year":2015,"wk":22,"lvl":"NONE"},{"year":2015,"wk":23,"lvl":"NONE"},{"year":2015,"wk":24,"lvl":"NONE"},{"year":2015,"wk":25,"lvl":"NONE"},{"year":2015,"wk":26,"lvl":"NONE"},{"year":2015,"wk":27,"lvl":"NONE"},{"year":2015,"wk":28,"lvl":"NONE"},{"year":2015,"wk":29,"lvl":"NONE"},{"year":2015,"wk":30,"lvl":"NONE"},{"year":2015,"wk":31,"lvl":"NONE"},{"year":2015,"wk":32,"lvl":"D0"},{"year":2015,"wk":33,"lvl":"D0"},{"year":2015,"wk":34,"lvl":"D1"},{"year":2015,"wk":35,"lvl":"D1"},{"year":2015,"wk":36,"lvl":"D2"},{"year":2015,"wk":37,"lvl":"D2"},{"year":2015,"wk":38,"lvl":"D2"},{"year":2015,"wk":39,"lvl":"D2"},{"year":2015,"wk":40,"lvl":"D3"},{"year":2015,"wk":41,"lvl":"D3"},{"year":2015,"wk":42,"lvl":"D3"},{"year":2015,"wk":43,"lvl":"D1"},{"year":2015,"wk":44,"lvl":"D0"},{"year":2015,"wk":45,"lvl":"D0"},{"year":2015,"wk":46,"lvl":"D0"},{"year":2015,"wk":47,"lvl":"NONE"},{"year":2015,"wk":48,"lvl":"NONE"},{"year":2015,"wk":49,"lvl":"NONE"},{"year":2015,"wk":50,"lvl":"NONE"},{"year":2015,"wk":51,"lvl":"NONE"},{"year":2015,"wk":52,"lvl":"NONE"},
{"year":2016,"wk":0,"lvl":"NONE"},{"year":2016,"wk":1,"lvl":"NONE"},{"year":2016,"wk":2,"lvl":"NONE"},{"year":2016,"wk":3,"lvl":"NONE"},{"year":2016,"wk":4,"lvl":"NONE"},{"year":2016,"wk":5,"lvl":"NONE"},{"year":2016,"wk":6,"lvl":"NONE"},{"year":2016,"wk":7,"lvl":"NONE"},{"year":2016,"wk":8,"lvl":"NONE"},{"year":2016,"wk":9,"lvl":"D0"},{"year":2016,"wk":10,"lvl":"D0"},{"year":2016,"wk":11,"lvl":"NONE"},{"year":2016,"wk":12,"lvl":"NONE"},{"year":2016,"wk":13,"lvl":"NONE"},{"year":2016,"wk":14,"lvl":"NONE"},{"year":2016,"wk":15,"lvl":"NONE"},{"year":2016,"wk":16,"lvl":"NONE"},{"year":2016,"wk":17,"lvl":"NONE"},{"year":2016,"wk":18,"lvl":"NONE"},{"year":2016,"wk":19,"lvl":"NONE"},{"year":2016,"wk":20,"lvl":"NONE"},{"year":2016,"wk":21,"lvl":"D0"},{"year":2016,"wk":22,"lvl":"D0"},{"year":2016,"wk":23,"lvl":"D0"},{"year":2016,"wk":24,"lvl":"D0"},{"year":2016,"wk":25,"lvl":"D0"},{"year":2016,"wk":26,"lvl":"D0"},{"year":2016,"wk":27,"lvl":"D0"},{"year":2016,"wk":28,"lvl":"D0"},{"year":2016,"wk":29,"lvl":"D0"},{"year":2016,"wk":30,"lvl":"D0"},{"year":2016,"wk":31,"lvl":"D0"},{"year":2016,"wk":32,"lvl":"D0"},{"year":2016,"wk":33,"lvl":"NONE"},{"year":2016,"wk":34,"lvl":"NONE"},{"year":2016,"wk":35,"lvl":"NONE"},{"year":2016,"wk":36,"lvl":"NONE"},{"year":2016,"wk":37,"lvl":"NONE"},{"year":2016,"wk":38,"lvl":"NONE"},{"year":2016,"wk":39,"lvl":"D0"},{"year":2016,"wk":40,"lvl":"D0"},{"year":2016,"wk":41,"lvl":"D1"},{"year":2016,"wk":42,"lvl":"D2"},{"year":2016,"wk":43,"lvl":"D2"},{"year":2016,"wk":44,"lvl":"D2"},{"year":2016,"wk":45,"lvl":"D2"},{"year":2016,"wk":46,"lvl":"D2"},{"year":2016,"wk":47,"lvl":"D3"},{"year":2016,"wk":48,"lvl":"D3"},{"year":2016,"wk":49,"lvl":"D2"},{"year":2016,"wk":50,"lvl":"D2"},{"year":2016,"wk":51,"lvl":"D1"},{"year":2016,"wk":52,"lvl":"D1"},
{"year":2017,"wk":0,"lvl":"NONE"},{"year":2017,"wk":1,"lvl":"D1"},{"year":2017,"wk":2,"lvl":"D1"},{"year":2017,"wk":3,"lvl":"D1"},{"year":2017,"wk":4,"lvl":"NONE"},{"year":2017,"wk":5,"lvl":"NONE"},{"year":2017,"wk":6,"lvl":"NONE"},{"year":2017,"wk":7,"lvl":"NONE"},{"year":2017,"wk":8,"lvl":"NONE"},{"year":2017,"wk":9,"lvl":"NONE"},{"year":2017,"wk":10,"lvl":"NONE"},{"year":2017,"wk":11,"lvl":"NONE"},{"year":2017,"wk":12,"lvl":"NONE"},{"year":2017,"wk":13,"lvl":"NONE"},{"year":2017,"wk":14,"lvl":"NONE"},{"year":2017,"wk":15,"lvl":"NONE"},{"year":2017,"wk":16,"lvl":"NONE"},{"year":2017,"wk":17,"lvl":"NONE"},{"year":2017,"wk":18,"lvl":"NONE"},{"year":2017,"wk":19,"lvl":"NONE"},{"year":2017,"wk":20,"lvl":"NONE"},{"year":2017,"wk":21,"lvl":"NONE"},{"year":2017,"wk":22,"lvl":"NONE"},{"year":2017,"wk":23,"lvl":"NONE"},{"year":2017,"wk":24,"lvl":"NONE"},{"year":2017,"wk":25,"lvl":"NONE"},{"year":2017,"wk":26,"lvl":"NONE"},{"year":2017,"wk":27,"lvl":"NONE"},{"year":2017,"wk":28,"lvl":"NONE"},{"year":2017,"wk":29,"lvl":"NONE"},{"year":2017,"wk":30,"lvl":"NONE"},{"year":2017,"wk":31,"lvl":"NONE"},{"year":2017,"wk":32,"lvl":"NONE"},{"year":2017,"wk":33,"lvl":"NONE"},{"year":2017,"wk":34,"lvl":"NONE"},{"year":2017,"wk":35,"lvl":"NONE"},{"year":2017,"wk":36,"lvl":"NONE"},{"year":2017,"wk":37,"lvl":"NONE"},{"year":2017,"wk":38,"lvl":"NONE"},{"year":2017,"wk":39,"lvl":"NONE"},{"year":2017,"wk":40,"lvl":"NONE"},{"year":2017,"wk":41,"lvl":"NONE"},{"year":2017,"wk":42,"lvl":"NONE"},{"year":2017,"wk":43,"lvl":"D0"},{"year":2017,"wk":44,"lvl":"D0"},{"year":2017,"wk":45,"lvl":"D0"},{"year":2017,"wk":46,"lvl":"D0"},{"year":2017,"wk":47,"lvl":"D1"},{"year":2017,"wk":48,"lvl":"D1"},{"year":2017,"wk":49,"lvl":"D1"},{"year":2017,"wk":50,"lvl":"D2"},{"year":2017,"wk":51,"lvl":"D2"},{"year":2017,"wk":52,"lvl":"D1"},
{"year":2018,"wk":0,"lvl":"D1"},{"year":2018,"wk":1,"lvl":"D1"},{"year":2018,"wk":2,"lvl":"D1"},{"year":2018,"wk":3,"lvl":"D1"},{"year":2018,"wk":4,"lvl":"D1"},{"year":2018,"wk":5,"lvl":"D1"},{"year":2018,"wk":6,"lvl":"D0"},{"year":2018,"wk":7,"lvl":"D0"},{"year":2018,"wk":8,"lvl":"NONE"},{"year":2018,"wk":9,"lvl":"NONE"},{"year":2018,"wk":10,"lvl":"NONE"},{"year":2018,"wk":11,"lvl":"NONE"},{"year":2018,"wk":12,"lvl":"NONE"},{"year":2018,"wk":13,"lvl":"NONE"},{"year":2018,"wk":14,"lvl":"NONE"},{"year":2018,"wk":15,"lvl":"NONE"},{"year":2018,"wk":16,"lvl":"NONE"},{"year":2018,"wk":17,"lvl":"NONE"},{"year":2018,"wk":18,"lvl":"NONE"},{"year":2018,"wk":19,"lvl":"NONE"},{"year":2018,"wk":20,"lvl":"NONE"},{"year":2018,"wk":21,"lvl":"NONE"},{"year":2018,"wk":22,"lvl":"D0"},{"year":2018,"wk":23,"lvl":"D0"},{"year":2018,"wk":24,"lvl":"D0"},{"year":2018,"wk":25,"lvl":"D0"},{"year":2018,"wk":26,"lvl":"D0"},{"year":2018,"wk":27,"lvl":"D0"},{"year":2018,"wk":28,"lvl":"D0"},{"year":2018,"wk":29,"lvl":"D0"},{"year":2018,"wk":30,"lvl":"D0"},{"year":2018,"wk":31,"lvl":"D0"},{"year":2018,"wk":32,"lvl":"D0"},{"year":2018,"wk":33,"lvl":"NONE"},{"year":2018,"wk":34,"lvl":"NONE"},{"year":2018,"wk":35,"lvl":"NONE"},{"year":2018,"wk":36,"lvl":"NONE"},{"year":2018,"wk":37,"lvl":"NONE"},{"year":2018,"wk":38,"lvl":"NONE"},{"year":2018,"wk":39,"lvl":"NONE"},{"year":2018,"wk":40,"lvl":"NONE"},{"year":2018,"wk":41,"lvl":"NONE"},{"year":2018,"wk":42,"lvl":"NONE"},{"year":2018,"wk":43,"lvl":"NONE"},{"year":2018,"wk":44,"lvl":"NONE"},{"year":2018,"wk":45,"lvl":"NONE"},{"year":2018,"wk":46,"lvl":"NONE"},{"year":2018,"wk":47,"lvl":"NONE"},{"year":2018,"wk":48,"lvl":"NONE"},{"year":2018,"wk":49,"lvl":"NONE"},{"year":2018,"wk":50,"lvl":"NONE"},{"year":2018,"wk":51,"lvl":"NONE"},{"year":2018,"wk":52,"lvl":"NONE"},
{"year":2019,"wk":0,"lvl":"NONE"},{"year":2019,"wk":1,"lvl":"NONE"},{"year":2019,"wk":2,"lvl":"NONE"},{"year":2019,"wk":3,"lvl":"NONE"},{"year":2019,"wk":4,"lvl":"NONE"},{"year":2019,"wk":5,"lvl":"NONE"},{"year":2019,"wk":6,"lvl":"NONE"},{"year":2019,"wk":7,"lvl":"NONE"},{"year":2019,"wk":8,"lvl":"NONE"},{"year":2019,"wk":9,"lvl":"NONE"},{"year":2019,"wk":10,"lvl":"NONE"},{"year":2019,"wk":11,"lvl":"NONE"},{"year":2019,"wk":12,"lvl":"NONE"},{"year":2019,"wk":13,"lvl":"NONE"},{"year":2019,"wk":14,"lvl":"NONE"},{"year":2019,"wk":15,"lvl":"NONE"},{"year":2019,"wk":16,"lvl":"NONE"},{"year":2019,"wk":17,"lvl":"NONE"},{"year":2019,"wk":18,"lvl":"NONE"},{"year":2019,"wk":19,"lvl":"NONE"},{"year":2019,"wk":20,"lvl":"NONE"},{"year":2019,"wk":21,"lvl":"NONE"},{"year":2019,"wk":22,"lvl":"NONE"},{"year":2019,"wk":23,"lvl":"NONE"},{"year":2019,"wk":24,"lvl":"NONE"},{"year":2019,"wk":25,"lvl":"NONE"},{"year":2019,"wk":26,"lvl":"NONE"},{"year":2019,"wk":27,"lvl":"NONE"},{"year":2019,"wk":28,"lvl":"NONE"},{"year":2019,"wk":29,"lvl":"NONE"},{"year":2019,"wk":30,"lvl":"NONE"},{"year":2019,"wk":31,"lvl":"NONE"},{"year":2019,"wk":32,"lvl":"NONE"},{"year":2019,"wk":33,"lvl":"NONE"},{"year":2019,"wk":34,"lvl":"NONE"},{"year":2019,"wk":35,"lvl":"NONE"},{"year":2019,"wk":36,"lvl":"NONE"},{"year":2019,"wk":37,"lvl":"D0"},{"year":2019,"wk":38,"lvl":"D0"},{"year":2019,"wk":39,"lvl":"D0"},{"year":2019,"wk":40,"lvl":"D0"},{"year":2019,"wk":41,"lvl":"D0"},{"year":2019,"wk":42,"lvl":"NONE"},{"year":2019,"wk":43,"lvl":"NONE"},{"year":2019,"wk":44,"lvl":"NONE"},{"year":2019,"wk":45,"lvl":"NONE"},{"year":2019,"wk":46,"lvl":"NONE"},{"year":2019,"wk":47,"lvl":"NONE"},{"year":2019,"wk":48,"lvl":"NONE"},{"year":2019,"wk":49,"lvl":"NONE"},{"year":2019,"wk":50,"lvl":"NONE"},{"year":2019,"wk":51,"lvl":"NONE"},{"year":2019,"wk":52,"lvl":"NONE"},
{"year":2020,"wk":0,"lvl":"NONE"},{"year":2020,"wk":1,"lvl":"NONE"},{"year":2020,"wk":2,"lvl":"NONE"},{"year":2020,"wk":3,"lvl":"NONE"},{"year":2020,"wk":4,"lvl":"NONE"},{"year":2020,"wk":5,"lvl":"NONE"},{"year":2020,"wk":6,"lvl":"NONE"},{"year":2020,"wk":7,"lvl":"NONE"},{"year":2020,"wk":8,"lvl":"NONE"},{"year":2020,"wk":9,"lvl":"NONE"},{"year":2020,"wk":10,"lvl":"NONE"},{"year":2020,"wk":11,"lvl":"NONE"},{"year":2020,"wk":12,"lvl":"NONE"},{"year":2020,"wk":13,"lvl":"NONE"},{"year":2020,"wk":14,"lvl":"NONE"},{"year":2020,"wk":15,"lvl":"NONE"},{"year":2020,"wk":16,"lvl":"NONE"},{"year":2020,"wk":17,"lvl":"NONE"},{"year":2020,"wk":18,"lvl":"NONE"},{"year":2020,"wk":19,"lvl":"NONE"},{"year":2020,"wk":20,"lvl":"NONE"},{"year":2020,"wk":21,"lvl":"NONE"},{"year":2020,"wk":22,"lvl":"NONE"},{"year":2020,"wk":23,"lvl":"NONE"},{"year":2020,"wk":24,"lvl":"NONE"},{"year":2020,"wk":25,"lvl":"NONE"},{"year":2020,"wk":26,"lvl":"NONE"},{"year":2020,"wk":27,"lvl":"NONE"},{"year":2020,"wk":28,"lvl":"NONE"},{"year":2020,"wk":29,"lvl":"NONE"},{"year":2020,"wk":30,"lvl":"NONE"},{"year":2020,"wk":31,"lvl":"NONE"},{"year":2020,"wk":32,"lvl":"D0"},{"year":2020,"wk":33,"lvl":"D0"},{"year":2020,"wk":34,"lvl":"D0"},{"year":2020,"wk":35,"lvl":"D0"},{"year":2020,"wk":36,"lvl":"D0"},{"year":2020,"wk":37,"lvl":"D0"},{"year":2020,"wk":38,"lvl":"D0"},{"year":2020,"wk":39,"lvl":"NONE"},{"year":2020,"wk":40,"lvl":"NONE"},{"year":2020,"wk":41,"lvl":"NONE"},{"year":2020,"wk":42,"lvl":"NONE"},{"year":2020,"wk":43,"lvl":"NONE"},{"year":2020,"wk":44,"lvl":"NONE"},{"year":2020,"wk":45,"lvl":"NONE"},{"year":2020,"wk":46,"lvl":"NONE"},{"year":2020,"wk":47,"lvl":"D0"},{"year":2020,"wk":48,"lvl":"D0"},{"year":2020,"wk":49,"lvl":"D0"},{"year":2020,"wk":50,"lvl":"D0"},{"year":2020,"wk":51,"lvl":"D0"},{"year":2020,"wk":52,"lvl":"D0"},
{"year":2021,"wk":0,"lvl":"NONE"},{"year":2021,"wk":1,"lvl":"NONE"},{"year":2021,"wk":2,"lvl":"NONE"},{"year":2021,"wk":3,"lvl":"D0"},{"year":2021,"wk":4,"lvl":"D0"},{"year":2021,"wk":5,"lvl":"D0"},{"year":2021,"wk":6,"lvl":"D0"},{"year":2021,"wk":7,"lvl":"D0"},{"year":2021,"wk":8,"lvl":"D0"},{"year":2021,"wk":9,"lvl":"NONE"},{"year":2021,"wk":10,"lvl":"NONE"},{"year":2021,"wk":11,"lvl":"NONE"},{"year":2021,"wk":12,"lvl":"NONE"},{"year":2021,"wk":13,"lvl":"NONE"},{"year":2021,"wk":14,"lvl":"NONE"},{"year":2021,"wk":15,"lvl":"NONE"},{"year":2021,"wk":16,"lvl":"NONE"},{"year":2021,"wk":17,"lvl":"NONE"},{"year":2021,"wk":18,"lvl":"NONE"},{"year":2021,"wk":19,"lvl":"NONE"},{"year":2021,"wk":20,"lvl":"NONE"},{"year":2021,"wk":21,"lvl":"NONE"},{"year":2021,"wk":22,"lvl":"NONE"},{"year":2021,"wk":23,"lvl":"NONE"},{"year":2021,"wk":24,"lvl":"NONE"},{"year":2021,"wk":25,"lvl":"NONE"},{"year":2021,"wk":26,"lvl":"NONE"},{"year":2021,"wk":27,"lvl":"NONE"},{"year":2021,"wk":28,"lvl":"NONE"},{"year":2021,"wk":29,"lvl":"NONE"},{"year":2021,"wk":30,"lvl":"NONE"},{"year":2021,"wk":31,"lvl":"NONE"},{"year":2021,"wk":32,"lvl":"NONE"},{"year":2021,"wk":33,"lvl":"NONE"},{"year":2021,"wk":34,"lvl":"NONE"},{"year":2021,"wk":35,"lvl":"NONE"},{"year":2021,"wk":36,"lvl":"NONE"},{"year":2021,"wk":37,"lvl":"NONE"},{"year":2021,"wk":38,"lvl":"NONE"},{"year":2021,"wk":39,"lvl":"NONE"},{"year":2021,"wk":40,"lvl":"NONE"},{"year":2021,"wk":41,"lvl":"NONE"},{"year":2021,"wk":42,"lvl":"NONE"},{"year":2021,"wk":43,"lvl":"D0"},{"year":2021,"wk":44,"lvl":"D0"},{"year":2021,"wk":45,"lvl":"D0"},{"year":2021,"wk":46,"lvl":"D0"},{"year":2021,"wk":47,"lvl":"D0"},{"year":2021,"wk":48,"lvl":"D1"},{"year":2021,"wk":49,"lvl":"D1"},{"year":2021,"wk":50,"lvl":"D1"},{"year":2021,"wk":51,"lvl":"D1"},{"year":2021,"wk":52,"lvl":"D1"},
{"year":2022,"wk":0,"lvl":"NONE"},{"year":2022,"wk":1,"lvl":"D2"},{"year":2022,"wk":2,"lvl":"D2"},{"year":2022,"wk":3,"lvl":"D2"},{"year":2022,"wk":4,"lvl":"D2"},{"year":2022,"wk":5,"lvl":"D2"},{"year":2022,"wk":6,"lvl":"D2"},{"year":2022,"wk":7,"lvl":"D3"},{"year":2022,"wk":8,"lvl":"D3"},{"year":2022,"wk":9,"lvl":"D3"},{"year":2022,"wk":10,"lvl":"D3"},{"year":2022,"wk":11,"lvl":"D3"},{"year":2022,"wk":12,"lvl":"D3"},{"year":2022,"wk":13,"lvl":"D2"},{"year":2022,"wk":14,"lvl":"D2"},{"year":2022,"wk":15,"lvl":"D2"},{"year":2022,"wk":16,"lvl":"D1"},{"year":2022,"wk":17,"lvl":"D0"},{"year":2022,"wk":18,"lvl":"D0"},{"year":2022,"wk":19,"lvl":"D0"},{"year":2022,"wk":20,"lvl":"D0"},{"year":2022,"wk":21,"lvl":"D0"},{"year":2022,"wk":22,"lvl":"D0"},{"year":2022,"wk":23,"lvl":"D0"},{"year":2022,"wk":24,"lvl":"NONE"},{"year":2022,"wk":25,"lvl":"NONE"},{"year":2022,"wk":26,"lvl":"D0"},{"year":2022,"wk":27,"lvl":"D0"},{"year":2022,"wk":28,"lvl":"D0"},{"year":2022,"wk":29,"lvl":"D0"},{"year":2022,"wk":30,"lvl":"D0"},{"year":2022,"wk":31,"lvl":"D0"},{"year":2022,"wk":32,"lvl":"D0"},{"year":2022,"wk":33,"lvl":"D0"},{"year":2022,"wk":34,"lvl":"D0"},{"year":2022,"wk":35,"lvl":"NONE"},{"year":2022,"wk":36,"lvl":"NONE"},{"year":2022,"wk":37,"lvl":"NONE"},{"year":2022,"wk":38,"lvl":"NONE"},{"year":2022,"wk":39,"lvl":"D0"},{"year":2022,"wk":40,"lvl":"D0"},{"year":2022,"wk":41,"lvl":"D0"},{"year":2022,"wk":42,"lvl":"D1"},{"year":2022,"wk":43,"lvl":"D2"},{"year":2022,"wk":44,"lvl":"D2"},{"year":2022,"wk":45,"lvl":"D1"},{"year":2022,"wk":46,"lvl":"D1"},{"year":2022,"wk":47,"lvl":"D1"},{"year":2022,"wk":48,"lvl":"D1"},{"year":2022,"wk":49,"lvl":"D1"},{"year":2022,"wk":50,"lvl":"D1"},{"year":2022,"wk":51,"lvl":"D1"},{"year":2022,"wk":52,"lvl":"D1"},
{"year":2023,"wk":0,"lvl":"NONE"},{"year":2023,"wk":1,"lvl":"D0"},{"year":2023,"wk":2,"lvl":"D0"},{"year":2023,"wk":3,"lvl":"D0"},{"year":2023,"wk":4,"lvl":"D0"},{"year":2023,"wk":5,"lvl":"D0"},{"year":2023,"wk":6,"lvl":"NONE"},{"year":2023,"wk":7,"lvl":"NONE"},{"year":2023,"wk":8,"lvl":"NONE"},{"year":2023,"wk":9,"lvl":"NONE"},{"year":2023,"wk":10,"lvl":"NONE"},{"year":2023,"wk":11,"lvl":"NONE"},{"year":2023,"wk":12,"lvl":"NONE"},{"year":2023,"wk":13,"lvl":"NONE"},{"year":2023,"wk":14,"lvl":"NONE"},{"year":2023,"wk":15,"lvl":"NONE"},{"year":2023,"wk":16,"lvl":"NONE"},{"year":2023,"wk":17,"lvl":"NONE"},{"year":2023,"wk":18,"lvl":"NONE"},{"year":2023,"wk":19,"lvl":"NONE"},{"year":2023,"wk":20,"lvl":"NONE"},{"year":2023,"wk":21,"lvl":"NONE"},{"year":2023,"wk":22,"lvl":"NONE"},{"year":2023,"wk":23,"lvl":"NONE"},{"year":2023,"wk":24,"lvl":"D0"},{"year":2023,"wk":25,"lvl":"D0"},{"year":2023,"wk":26,"lvl":"D0"},{"year":2023,"wk":27,"lvl":"D0"},{"year":2023,"wk":28,"lvl":"D0"},{"year":2023,"wk":29,"lvl":"D0"},{"year":2023,"wk":30,"lvl":"NONE"},{"year":2023,"wk":31,"lvl":"NONE"},{"year":2023,"wk":32,"lvl":"NONE"},{"year":2023,"wk":33,"lvl":"NONE"},{"year":2023,"wk":34,"lvl":"NONE"},{"year":2023,"wk":35,"lvl":"D0"},{"year":2023,"wk":36,"lvl":"D0"},{"year":2023,"wk":37,"lvl":"D1"},{"year":2023,"wk":38,"lvl":"D1"},{"year":2023,"wk":39,"lvl":"D1"},{"year":2023,"wk":40,"lvl":"D2"},{"year":2023,"wk":41,"lvl":"D2"},{"year":2023,"wk":42,"lvl":"D3"},{"year":2023,"wk":43,"lvl":"D3"},{"year":2023,"wk":44,"lvl":"D3"},{"year":2023,"wk":45,"lvl":"D3"},{"year":2023,"wk":46,"lvl":"D3"},{"year":2023,"wk":47,"lvl":"D3"},{"year":2023,"wk":48,"lvl":"D3"},{"year":2023,"wk":49,"lvl":"D3"},{"year":2023,"wk":50,"lvl":"D3"},{"year":2023,"wk":51,"lvl":"D3"},{"year":2023,"wk":52,"lvl":"D3"},
{"year":2024,"wk":0,"lvl":"D3"},{"year":2024,"wk":1,"lvl":"D3"},{"year":2024,"wk":2,"lvl":"D3"},{"year":2024,"wk":3,"lvl":"D3"},{"year":2024,"wk":4,"lvl":"D2"},{"year":2024,"wk":5,"lvl":"D2"},{"year":2024,"wk":6,"lvl":"D1"},{"year":2024,"wk":7,"lvl":"D0"},{"year":2024,"wk":8,"lvl":"D0"},{"year":2024,"wk":9,"lvl":"D0"},{"year":2024,"wk":10,"lvl":"NONE"},{"year":2024,"wk":11,"lvl":"NONE"},{"year":2024,"wk":12,"lvl":"NONE"},{"year":2024,"wk":13,"lvl":"NONE"},{"year":2024,"wk":14,"lvl":"NONE"},{"year":2024,"wk":15,"lvl":"NONE"},{"year":2024,"wk":16,"lvl":"NONE"},{"year":2024,"wk":17,"lvl":"NONE"},{"year":2024,"wk":18,"lvl":"NONE"},{"year":2024,"wk":19,"lvl":"NONE"},{"year":2024,"wk":20,"lvl":"NONE"},{"year":2024,"wk":21,"lvl":"NONE"},{"year":2024,"wk":22,"lvl":"NONE"},{"year":2024,"wk":23,"lvl":"NONE"},{"year":2024,"wk":24,"lvl":"NONE"},{"year":2024,"wk":25,"lvl":"NONE"},{"year":2024,"wk":26,"lvl":"D0"},{"year":2024,"wk":27,"lvl":"D0"},{"year":2024,"wk":28,"lvl":"D0"},{"year":2024,"wk":29,"lvl":"D0"},{"year":2024,"wk":30,"lvl":"D0"},{"year":2024,"wk":31,"lvl":"D0"},{"year":2024,"wk":32,"lvl":"D1"},{"year":2024,"wk":33,"lvl":"D1"},{"year":2024,"wk":34,"lvl":"D2"},{"year":2024,"wk":35,"lvl":"D2"},{"year":2024,"wk":36,"lvl":"D2"},{"year":2024,"wk":37,"lvl":"D1"},{"year":2024,"wk":38,"lvl":"D1"},{"year":2024,"wk":39,"lvl":"D1"},{"year":2024,"wk":40,"lvl":"D1"},{"year":2024,"wk":41,"lvl":"D1"},{"year":2024,"wk":42,"lvl":"D1"},{"year":2024,"wk":43,"lvl":"D1"},{"year":2024,"wk":44,"lvl":"D1"},{"year":2024,"wk":45,"lvl":"D1"},{"year":2024,"wk":46,"lvl":"D0"},{"year":2024,"wk":47,"lvl":"D0"},{"year":2024,"wk":48,"lvl":"D0"},{"year":2024,"wk":49,"lvl":"D0"},{"year":2024,"wk":50,"lvl":"D0"},{"year":2024,"wk":51,"lvl":"D0"},{"year":2024,"wk":52,"lvl":"NONE"},
{"year":2025,"wk":0,"lvl":"NONE"},{"year":2025,"wk":1,"lvl":"NONE"},{"year":2025,"wk":2,"lvl":"NONE"},{"year":2025,"wk":3,"lvl":"NONE"},{"year":2025,"wk":4,"lvl":"NONE"},{"year":2025,"wk":5,"lvl":"NONE"},{"year":2025,"wk":6,"lvl":"NONE"},{"year":2025,"wk":7,"lvl":"NONE"},{"year":2025,"wk":8,"lvl":"NONE"},{"year":2025,"wk":9,"lvl":"NONE"},{"year":2025,"wk":10,"lvl":"NONE"},{"year":2025,"wk":11,"lvl":"NONE"},{"year":2025,"wk":12,"lvl":"NONE"},{"year":2025,"wk":13,"lvl":"NONE"},{"year":2025,"wk":14,"lvl":"NONE"},{"year":2025,"wk":15,"lvl":"NONE"},{"year":2025,"wk":16,"lvl":"NONE"},{"year":2025,"wk":17,"lvl":"NONE"},{"year":2025,"wk":18,"lvl":"NONE"},{"year":2025,"wk":19,"lvl":"NONE"},{"year":2025,"wk":20,"lvl":"NONE"},{"year":2025,"wk":21,"lvl":"NONE"},{"year":2025,"wk":22,"lvl":"NONE"},{"year":2025,"wk":23,"lvl":"NONE"},{"year":2025,"wk":24,"lvl":"NONE"},{"year":2025,"wk":25,"lvl":"NONE"},{"year":2025,"wk":26,"lvl":"NONE"},{"year":2025,"wk":27,"lvl":"NONE"},{"year":2025,"wk":28,"lvl":"NONE"},{"year":2025,"wk":29,"lvl":"NONE"},{"year":2025,"wk":30,"lvl":"D0"},{"year":2025,"wk":31,"lvl":"D0"},{"year":2025,"wk":32,"lvl":"D1"},{"year":2025,"wk":33,"lvl":"D1"},{"year":2025,"wk":34,"lvl":"D1"},{"year":2025,"wk":35,"lvl":"D1"},{"year":2025,"wk":36,"lvl":"D1"},{"year":2025,"wk":37,"lvl":"D1"},{"year":2025,"wk":38,"lvl":"D1"},{"year":2025,"wk":39,"lvl":"D1"},{"year":2025,"wk":40,"lvl":"D1"},{"year":2025,"wk":41,"lvl":"D1"},{"year":2025,"wk":42,"lvl":"D1"},{"year":2025,"wk":43,"lvl":"D0"},{"year":2025,"wk":44,"lvl":"D0"},{"year":2025,"wk":45,"lvl":"D0"},{"year":2025,"wk":46,"lvl":"D0"},{"year":2025,"wk":47,"lvl":"D0"},{"year":2025,"wk":48,"lvl":"D0"},{"year":2025,"wk":49,"lvl":"D0"},{"year":2025,"wk":50,"lvl":"D0"},{"year":2025,"wk":51,"lvl":"D0"},{"year":2025,"wk":52,"lvl":"D0"},
{"year":2026,"wk":0,"lvl":"NONE"},{"year":2026,"wk":1,"lvl":"D1"},{"year":2026,"wk":2,"lvl":"D1"},{"year":2026,"wk":3,"lvl":"D1"},{"year":2026,"wk":4,"lvl":"D0"},{"year":2026,"wk":5,"lvl":"D0"},{"year":2026,"wk":6,"lvl":"D0"},{"year":2026,"wk":7,"lvl":"D0"},{"year":2026,"wk":8,"lvl":"D0"},{"year":2026,"wk":9,"lvl":"D1"},{"year":2026,"wk":10,"lvl":"D1"},{"year":2026,"wk":11,"lvl":"D1"},{"year":2026,"wk":12,"lvl":"D1"},{"year":2026,"wk":13,"lvl":"D2"},{"year":2026,"wk":14,"lvl":"D2"},{"year":2026,"wk":15,"lvl":"D3"},{"year":2026,"wk":16,"lvl":"D3"},{"year":2026,"wk":17,"lvl":"D3"},{"year":2026,"wk":18,"lvl":"D3"},{"year":2026,"wk":19,"lvl":"D3"},{"year":2026,"wk":20,"lvl":"D4"},{"year":2026,"wk":21,"lvl":"D4"},{"year":2026,"wk":22,"lvl":"D4"},{"year":2026,"wk":23,"lvl":"D4"},{"year":2026,"wk":24,"lvl":"D4"},{"year":2026,"wk":25,"lvl":"D3"},{"year":2026,"wk":26,"lvl":"D3"},{"year":2026,"wk":27,"lvl":"D3"},{"year":2026,"wk":28,"lvl":"D3"},{"year":2026,"wk":29,"lvl":"D3"},{"year":2026,"wk":30,"lvl":"D3"},{"year":2026,"wk":31,"lvl":"D3"},{"year":2026,"wk":32,"lvl":"D3"},{"year":2026,"wk":33,"lvl":"NONE"},{"year":2026,"wk":34,"lvl":"NONE"},{"year":2026,"wk":35,"lvl":"NONE"},{"year":2026,"wk":36,"lvl":"NONE"},{"year":2026,"wk":37,"lvl":"NONE"},{"year":2026,"wk":38,"lvl":"NONE"},{"year":2026,"wk":39,"lvl":"NONE"},{"year":2026,"wk":40,"lvl":"NONE"},{"year":2026,"wk":41,"lvl":"NONE"},{"year":2026,"wk":42,"lvl":"NONE"},{"year":2026,"wk":43,"lvl":"NONE"},{"year":2026,"wk":44,"lvl":"NONE"},{"year":2026,"wk":45,"lvl":"NONE"},{"year":2026,"wk":46,"lvl":"NONE"},{"year":2026,"wk":47,"lvl":"NONE"},{"year":2026,"wk":48,"lvl":"NONE"},{"year":2026,"wk":49,"lvl":"NONE"},{"year":2026,"wk":50,"lvl":"NONE"},{"year":2026,"wk":51,"lvl":"NONE"},{"year":2026,"wk":52,"lvl":"NONE"}
]},
"mark": {"type": "rect"},
"encoding": {
  "x": {"field": "wk", "type": "ordinal",
    "scale": {"range": [202, 3404], "paddingInner": 0.15, "paddingOuter": 0},
    "axis": {"orient": "top", "values": [0,4,8,13,17,21,26,30,34,39,43,47],
      "labelExpr": "datum.value==0?'JAN':datum.value==4?'FEB':datum.value==8?'MAR':datum.value==13?'APR':datum.value==17?'MAY':datum.value==21?'JUN':datum.value==26?'JUL':datum.value==30?'AUG':datum.value==34?'SEP':datum.value==39?'OCT':datum.value==43?'NOV':'DEC'",
      "offset": -271, "ticks": false, "domain": false, "grid": false, "labelAngle": 0, "labelPadding": 0,
      "labelBaseline": "alphabetic", "labelFont": "Open Sans", "labelFontSize": 40, "labelColor": "#dcc79c",
      "title": "driestsince.com", "titleFont": "Open Sans", "titleFontSize": 42, "titleFontWeight": "bold", "titleColor": "#f2c14e",
      "titleAngle": 0, "titleAlign": "right", "titleBaseline": "alphabetic", "titleX": 3408, "titleY": 876}},
  "y": {"field": "year", "type": "ordinal",
    "scale": {"range": [302, 1114], "paddingInner": 0.242, "paddingOuter": 0},
    "axis": {"orient": "left", "offset": -155, "ticks": false, "domain": false, "grid": false, "labelPadding": 0,
      "labelFont": "DejaVu Sans", "labelFontSize": 38, "labelColor": "#e3d5b3", "labelBaseline": "middle",
      "title": "driestsince.com\u00a0 · U.S. Drought Monitor ·NDMC / NOAA / USDA", "titleFont": "Open Sans", "titleFontSize": 36, "titleFontWeight": "normal", "titleColor": "#d6c297",
      "titleAngle": 0, "titleAlign": "left", "titleBaseline": "alphabetic", "titleX": 14, "titleY": 1147}},
  "color": {"field": "lvl", "type": "nominal",
    "scale": {"domain": ["NONE","D0","D1","D2","D3","D4"], "range": ["#45381f","#ffff00","#fcd37f","#ffaa00","#e60000","#730000"]},
    "legend": {"orient": "none", "legendX": 2271, "legendY": 52, "direction": "horizontal", "columns": 6, "title": null,
      "symbolType": "M-1,-0.54H1V0.54H-1Z", "symbolSize": 5476, "symbolStrokeColor": "#1e150a", "symbolStrokeWidth": 3, "symbolOpacity": 1,
      "labelFont": "Open Sans", "labelFontWeight": "bold", "labelFontSize": 40, "labelColor": "#faf2de", "labelOffset": 22,
      "columnPadding": 33, "gridAlign": "each", "padding": 0}}
}
}
